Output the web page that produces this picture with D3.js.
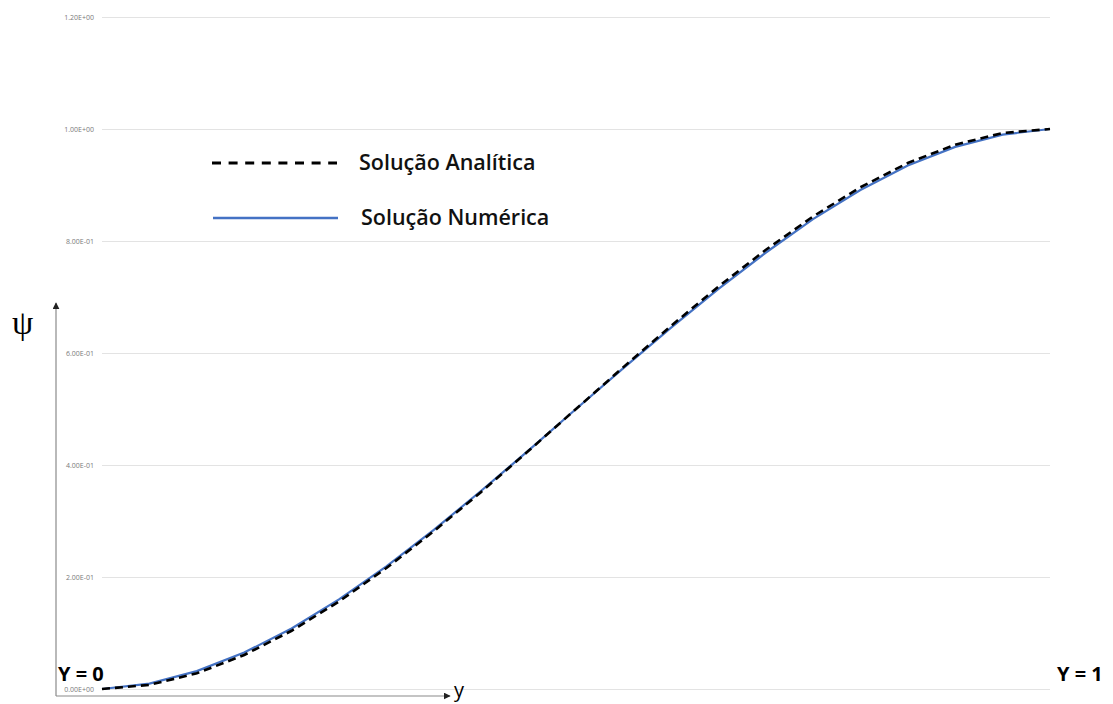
<!DOCTYPE html>
<html>
<head>
<meta charset="utf-8">
<script src="https://cdn.jsdelivr.net/npm/d3@7"></script>
<style>
  html, body { margin: 0; padding: 0; background: #fff; }
  svg { display: block; }
</style>
</head>
<body>
<svg id="chart" width="1113" height="704"></svg>
<script>
// Position across the channel, y in [0, 1]
const positions = [0, 0.05, 0.10, 0.15, 0.20, 0.25, 0.30, 0.35, 0.40, 0.45, 0.50,
                   0.55, 0.60, 0.65, 0.70, 0.75, 0.80, 0.85, 0.90, 0.95, 1.00];
// Analytical stream function values
const analytic = [0, 0.0073, 0.028, 0.0608, 0.104, 0.1563, 0.216, 0.2818, 0.352, 0.4253, 0.5,
                  0.5748, 0.648, 0.7183, 0.784, 0.8438, 0.896, 0.9393, 0.972, 0.9928, 1.0];
// Numerical stream function values
const numeric = [0, 0.0095, 0.032, 0.065, 0.108, 0.160, 0.219, 0.284, 0.354, 0.426, 0.500,
                 0.573, 0.645, 0.714, 0.779, 0.839, 0.891, 0.935, 0.968, 0.990, 1.0];
// Vertical axis ticks
const yTicks = [0, 0.2, 0.4, 0.6, 0.8, 1.0, 1.2];
const yTickLabels = ["0.00E+00", "2.00E-01", "4.00E-01", "6.00E-01", "8.00E-01", "1.00E+00", "1.20E+00"];
// Legend entries
const legendLabels = ["Solução Analítica", "Solução Numérica"];

const svg = d3.select("#chart");
const x = d3.scaleLinear().domain([0, 1]).range([102, 1050]);
const y = d3.scaleLinear().domain([0, 1.2]).range([689, 17]);

// Horizontal gridlines and tick labels
const yAxis = d3.axisLeft(y)
  .tickValues(yTicks)
  .tickFormat((d, i) => yTickLabels[i])
  .tickSize(-(1050 - 102))
  .tickPadding(8);
const g = svg.append("g").attr("transform", "translate(102,0)").call(yAxis);
g.select(".domain").remove();
g.selectAll(".tick line").attr("stroke", "#e3e3e3").attr("stroke-width", 1);
g.selectAll(".tick text")
  .attr("fill", "#7a7a7a")
  .style("font-family", "'Open Sans', sans-serif")
  .style("font-size", "7px");

// Arrow axes
const defs = svg.append("defs");
defs.append("marker")
  .attr("id", "arrow")
  .attr("viewBox", "0 0 10 10")
  .attr("refX", 9).attr("refY", 5)
  .attr("markerWidth", 7).attr("markerHeight", 7)
  .attr("markerUnits", "userSpaceOnUse")
  .attr("orient", "auto")
  .append("path").attr("d", "M0,0 L10,5 L0,10 Z").attr("fill", "#222");

svg.append("line")
  .attr("x1", 56).attr("y1", 696).attr("x2", 56).attr("y2", 303)
  .attr("stroke", "#8a8a8a").attr("stroke-width", 1.2)
  .attr("marker-end", "url(#arrow)");
svg.append("line")
  .attr("x1", 56).attr("y1", 696).attr("x2", 450).attr("y2", 696)
  .attr("stroke", "#8a8a8a").attr("stroke-width", 1.2)
  .attr("marker-end", "url(#arrow)");

// Curves
const line = d3.line().x((d, i) => x(positions[i])).y(d => y(d));
svg.append("path")
  .datum(numeric)
  .attr("d", line)
  .attr("fill", "none")
  .attr("stroke", "#4472C4")
  .attr("stroke-width", 2.2);
svg.append("path")
  .datum(analytic)
  .attr("d", line)
  .attr("fill", "none")
  .attr("stroke", "#000")
  .attr("stroke-width", 2.6)
  .attr("stroke-dasharray", "8,5");

// Legend
const legendY = [163, 218];
svg.append("line")
  .attr("x1", 212).attr("x2", 337).attr("y1", legendY[0]).attr("y2", legendY[0])
  .attr("stroke", "#000").attr("stroke-width", 2.8)
  .attr("stroke-dasharray", "9,7.6");
svg.append("line")
  .attr("x1", 213).attr("x2", 338).attr("y1", legendY[1]).attr("y2", legendY[1])
  .attr("stroke", "#4472C4").attr("stroke-width", 2.4);
svg.selectAll("text.legend")
  .data(legendLabels)
  .join("text")
  .attr("class", "legend")
  .attr("x", (d, i) => i === 0 ? 359 : 361)
  .attr("y", (d, i) => legendY[i] + 7)
  .attr("fill", "#111")
  .style("font-family", "'Open Sans', sans-serif")
  .style("font-weight", 600)
  .style("font-size", "21.5px")
  .text(d => d);

// Axis annotations
svg.append("text")
  .attr("x", 12).attr("y", 334)
  .style("font-family", "'Liberation Serif', serif")
  .style("font-size", "34px")
  .attr("fill", "#000")
  .text("ψ");
svg.append("text")
  .attr("x", 454).attr("y", 697)
  .style("font-family", "'Open Sans', sans-serif")
  .style("font-size", "20px")
  .attr("fill", "#000")
  .text("y");
svg.append("text")
  .attr("x", 58).attr("y", 681)
  .style("font-family", "'Open Sans', sans-serif")
  .style("font-weight", 700)
  .style("font-size", "20px")
  .attr("fill", "#000")
  .text("Y = 0");
svg.append("text")
  .attr("x", 1057).attr("y", 681)
  .style("font-family", "'Open Sans', sans-serif")
  .style("font-weight", 700)
  .style("font-size", "20px")
  .attr("fill", "#000")
  .text("Y = 1");
</script>
</body>
</html>
